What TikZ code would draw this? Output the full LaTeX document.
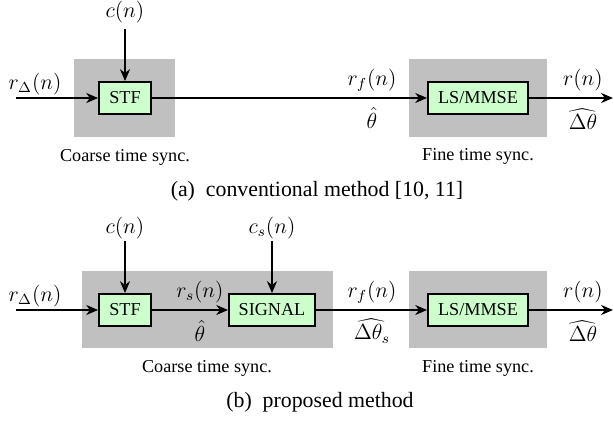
\documentclass[tikz,border=0pt]{standalone}
\usepackage{fontspec}
\setmainfont{Liberation Serif}
\usetikzlibrary{arrows.meta}
\definecolor{boxgreen}{RGB}{204,255,204}
\definecolor{shade}{RGB}{192,192,192}
\begin{document}
\begin{tikzpicture}[x=0.55pt,y=-0.55pt,
  blk/.style={draw=black,line width=1pt,fill=boxgreen,inner sep=0pt,minimum height=17.6pt,font=\fontsize{10}{12}\selectfont},
  lbl/.style={inner sep=0pt,font=\fontsize{10}{12}\selectfont},
  mlbl/.style={inner sep=0pt,font=\fontsize{12}{14}\selectfont},
  captxt/.style={inner sep=0pt,font=\fontsize{12}{14}\selectfont},
  arr/.style={line width=1pt,-{Stealth[length=6.5pt,width=5.5pt,inset=2pt]}},
  bg/.style={fill=shade,draw=none}]
\useasboundingbox (0,0) rectangle (614,427);
% ---------- panel (a)
\fill[bg] (74,59) rectangle (175,137);
\fill[bg] (409,59) rectangle (547,137);
\node[blk,minimum width=28.6pt] (stfa) at (125,98) {STF};
\node[blk,minimum width=55pt] (lsa) at (478,98) {LS/MMSE};
\node[mlbl] (cna) at (125,12) {$c(n)$};
\coordinate (cta) at (125,29);
\node[mlbl] (rda) at (35,84) {$r_\Delta(n)$};
\coordinate (ina) at (16,98);
\coordinate (outa) at (613,98);
\node[mlbl] (rfa) at (372,80) {$r_f(n)$};
\node[mlbl] (tha) at (372,118) {$\hat{\theta}$};
\node[mlbl] (rna) at (583,80) {$r(n)$};
\node[mlbl] (dta) at (583,119) {$\widehat{\Delta\theta}$};
\node[lbl] (coa) at (125,157) {Coarse time sync.};
\node[lbl] (fia) at (478,156) {Fine time sync.};
\node[captxt] (capa) at (317,191) {(a)\enspace conventional method [10, 11]};
\draw[arr] (cta) -- (stfa.north);
\draw[arr] (ina) -- (stfa.west);
\draw[arr] (stfa.east) -- (lsa.west);
\draw[arr] (lsa.east) -- (outa);
% ---------- panel (b)
\fill[bg] (82,271) rectangle (333,348);
\fill[bg] (409,271) rectangle (547,348);
\node[blk,minimum width=28.6pt] (stfb) at (125,310) {STF};
\node[blk,minimum width=47.3pt] (sig) at (272,310) {SIGNAL};
\node[blk,minimum width=55pt] (lsb) at (478,310) {LS/MMSE};
\node[mlbl] (cnb) at (125,228) {$c(n)$};
\coordinate (ctb) at (125,241);
\node[mlbl] (csb) at (272,228) {$c_s(n)$};
\coordinate (csc) at (272,241);
\node[mlbl] (rdb) at (35,296) {$r_\Delta(n)$};
\coordinate (inb) at (16,310);
\coordinate (outb) at (613,310);
\node[mlbl] (rsb) at (200,292) {$r_s(n)$};
\node[mlbl] (thb) at (200,331) {$\hat{\theta}$};
\node[mlbl] (rfb) at (372,292) {$r_f(n)$};
\node[mlbl] (dtsb) at (372,331) {$\widehat{\Delta\theta_s}$};
\node[mlbl] (rnb) at (583,292) {$r(n)$};
\node[mlbl] (dtb) at (583,331) {$\widehat{\Delta\theta}$};
\node[lbl] (cob) at (207,368) {Coarse time sync.};
\node[lbl] (fib) at (478,368) {Fine time sync.};
\node[captxt] (capb) at (320,402) {(b)\enspace proposed method};
\draw[arr] (ctb) -- (stfb.north);
\draw[arr] (csc) -- (sig.north);
\draw[arr] (inb) -- (stfb.west);
\draw[arr] (stfb.east) -- (sig.west);
\draw[arr] (sig.east) -- (lsb.west);
\draw[arr] (lsb.east) -- (outb);
\end{tikzpicture}
\end{document}
